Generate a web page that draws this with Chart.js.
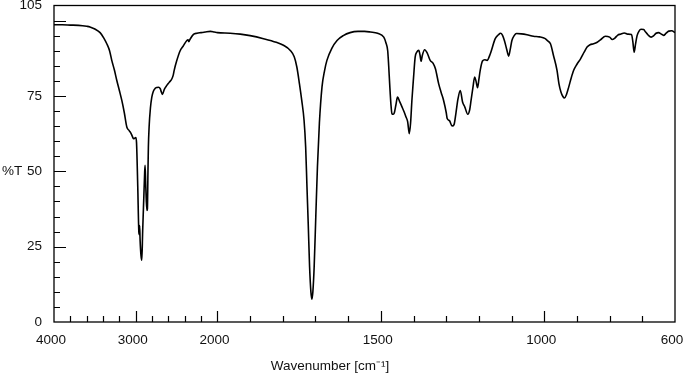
<!DOCTYPE html>
<html>
<head>
<meta charset="utf-8">
<script src="https://cdn.jsdelivr.net/npm/chart.js@4"></script>
<style>
  html, body { margin: 0; padding: 0; background: #fff; }
  #wrap { width: 683px; height: 375px; }
</style>
</head>
<body>
<div id="wrap"><canvas id="canvas" width="683" height="375"></canvas></div>
<script>
// IR spectrum, wavenumber (cm-1) vs %T
const wavenumbers = [
  4000, 3900, 3800, 3700, 3600, 3560, 3500, 3436, 3390, 3354, 3320, 3293, 3260, 3232, 3200, 3170,
  3140, 3109, 3080, 3056, 3040, 3028, 3010, 2999, 2990, 2975, 2962, 2957, 2952, 2946, 2935, 2925,
  2915, 2900, 2890, 2885, 2878, 2870, 2862, 2857, 2850, 2845, 2836, 2820, 2803, 2785, 2762, 2740,
  2720, 2700, 2690, 2673, 2650, 2619, 2590, 2557, 2540, 2529, 2500, 2456, 2420, 2374, 2360, 2350,
  2335, 2293, 2250, 2200, 2150, 2085, 2040, 2000, 1961, 1930, 1900, 1859, 1820, 1798, 1777, 1765,
  1757, 1749, 1742, 1735, 1730, 1726, 1722, 1718, 1714, 1711, 1708, 1704, 1699, 1694, 1688, 1680,
  1672, 1665, 1650, 1634, 1615, 1594, 1570, 1550, 1532, 1510, 1491, 1484, 1479, 1476, 1473, 1469,
  1466, 1462, 1459, 1454, 1449, 1442, 1435, 1428, 1423, 1418, 1413, 1409, 1405, 1400, 1395, 1390,
  1384, 1380, 1377, 1373, 1366, 1358, 1349, 1340, 1333, 1323, 1315, 1308, 1300, 1297, 1290, 1282,
  1276, 1270, 1264, 1257, 1250, 1243, 1234, 1228, 1224, 1218, 1213, 1209, 1204, 1200, 1196, 1189,
  1182, 1175, 1165, 1150, 1140, 1134, 1128, 1122, 1115, 1109, 1104, 1099, 1092, 1085, 1070, 1053,
  1033, 1015, 997, 991, 981, 972, 961, 955, 949, 943, 938, 932, 925, 918, 910, 900,
  889, 878, 869, 860, 849, 838, 828, 813, 800, 792, 784, 775, 767, 755, 745, 733,
  729, 725, 721, 716, 710, 704, 696, 690, 683, 673, 665, 658, 650, 643, 635, 627,
  619, 610, 600
];
const transmittance = [
  98.6, 98.6, 98.5, 98.4, 98.1, 97.9, 97.2, 96.0, 94.2, 92.3, 90.0, 86.8, 83.5, 80.2, 76.8, 73.5,
  69.5, 64.7, 63.5, 62.5, 61.5, 60.8, 61.0, 61.2, 59.5, 45.0, 30.0, 29.0, 32.0, 27.0, 22.0, 20.5,
  30.0, 42.0, 50.0, 52.0, 46.0, 40.0, 37.0, 37.5, 50.0, 58.0, 64.7, 71.0, 74.6, 76.5, 77.5, 77.8,
  77.9, 77.4, 76.6, 75.5, 77.2, 78.5, 79.5, 80.7, 82.0, 83.5, 86.5, 90.0, 91.5, 93.4, 93.6, 93.0,
  93.8, 95.4, 95.8, 96.0, 96.2, 96.4, 96.2, 96.0, 95.8, 95.5, 95.0, 94.0, 92.8, 91.8, 90.1, 88.0,
  84.6, 79.0, 73.5, 67.0, 58.0, 44.8, 32.0, 18.3, 10.0, 7.6, 10.0, 18.3, 35.0, 51.4, 66.0, 78.0,
  83.5, 86.8, 90.8, 93.4, 95.0, 96.0, 96.4, 96.4, 96.2, 95.8, 94.5, 92.5, 90.0, 85.0, 79.0, 72.0,
  69.1, 68.9, 69.3, 72.0, 74.6, 73.0, 71.3, 69.5, 68.0, 66.5, 62.5, 66.0, 73.5, 81.0, 87.9, 89.5,
  90.1, 88.5, 86.5, 88.5, 90.3, 89.2, 86.8, 85.8, 84.0, 79.0, 76.0, 73.5, 69.5, 67.5, 66.8, 65.0,
  65.5, 69.5, 74.0, 76.8, 73.0, 71.3, 68.9, 70.5, 73.5, 78.0, 81.3, 80.0, 77.7, 80.5, 83.5, 86.6,
  87.0, 86.8, 89.0, 94.0, 95.3, 95.8, 95.2, 93.4, 90.5, 88.2, 90.5, 93.4, 95.0, 95.7, 95.6, 95.3,
  94.8, 94.6, 94.0, 93.4, 92.3, 88.5, 83.5, 79.0, 76.3, 74.8, 74.3, 75.5, 78.0, 80.8, 83.5, 85.5,
  87.3, 89.5, 91.2, 92.0, 92.3, 92.8, 93.6, 94.8, 94.5, 93.7, 94.2, 95.2, 95.5, 95.9, 95.5, 95.4,
  93.0, 89.5, 92.0, 95.0, 96.5, 97.1, 97.0, 96.2, 95.3, 94.5, 95.0, 95.8, 96.0, 95.6, 95.1, 95.8,
  96.5, 96.6, 96.0
];

const xLabelTicks = [4000, 3000, 2000, 1500, 1000, 600];
const xMajorMarks = [3000, 2000, 1500, 1000];
const xMinorMarks = [3800, 3600, 3400, 3200, 2800, 2600, 2400, 2200,
  1900, 1800, 1700, 1600, 1400, 1300, 1200, 1100, 900, 800, 700];
const yLabelTicks = [0, 25, 50, 75, 105];
const yMarks = [5, 10, 15, 20, 25, 30, 35, 40, 45, 50, 55, 60, 65, 70, 75, 80, 85, 90, 95, 100];
const xTitle = "Wavenumber [cm\u207B\u00B9]";
const yTitle = "%T";

// axis is compressed above 2000 cm-1 (4x)
function toU(w) { return w >= 2000 ? (4000 - w) / 4 : 500 + (2000 - w); }
function fromU(u) { return u <= 500 ? 4000 - u * 4 : 2000 - (u - 500); }

const font = { family: "'Liberation Sans', Arial, sans-serif", size: 13.5 };
const ink = "#111";

const framePlugin = {
  id: "frame",
  afterDraw(chart) {
    const { ctx, chartArea: a, scales } = chart;
    const x = scales.x, y = scales.y;
    ctx.save();
    ctx.strokeStyle = "#000";
    ctx.lineWidth = 1.3;
    ctx.strokeRect(a.left, a.top, a.right - a.left, a.bottom - a.top);
    ctx.lineWidth = 1.2;
    ctx.beginPath();
    yMarks.forEach((v) => {
      const py = Math.round(y.getPixelForValue(v)) + 0.5;
      const len = v % 25 === 0 ? 12 : 6;
      ctx.moveTo(a.left, py);
      ctx.lineTo(a.left + len, py);
    });
    xMajorMarks.concat(xMinorMarks).forEach((w) => {
      const px = Math.round(x.getPixelForValue(toU(w))) + 0.5;
      const len = xMajorMarks.includes(w) ? 11 : 6;
      ctx.moveTo(px, a.bottom);
      ctx.lineTo(px, a.bottom - len);
    });
    ctx.stroke();
    ctx.fillStyle = ink;
    ctx.font = "13.5px 'Liberation Sans', Arial, sans-serif";
    ctx.textBaseline = "middle";
    ctx.textAlign = "left";
    ctx.fillText(yTitle, 2, y.getPixelForValue(50));
    // axis title sits left of the plot centre in the original
    ctx.textAlign = "center";
    ctx.fillText(xTitle, 330, 366);
    ctx.restore();
  },
};

new Chart(document.getElementById("canvas").getContext("2d"), {
  type: "line",
  data: {
    datasets: [
      {
        data: wavenumbers.map((w, i) => ({ x: toU(w), y: transmittance[i] })),
        borderColor: "#000",
        borderWidth: 1.6,
        pointRadius: 0,
        fill: false,
        cubicInterpolationMode: "monotone",
      },
    ],
  },
  options: {
    responsive: false,
    animation: false,
    devicePixelRatio: 1,
    layout: { padding: { left: 0, right: 8, top: 5.5, bottom: 0 } },
    plugins: { legend: { display: false }, tooltip: { enabled: false } },
    scales: {
      x: {
        type: "linear",
        min: 0,
        max: 1900,
        grid: { display: false, drawTicks: false },
        border: { display: false },
        afterBuildTicks: (s) => { s.ticks = xLabelTicks.map((w) => ({ value: toU(w) })); },
        afterFit: (s) => { s.height = 53; s.paddingLeft = 0; s.paddingRight = 0; },
        ticks: {
          autoSkip: false,
          maxRotation: 0,
          padding: 10,
          labelOffset: -3,
          color: ink,
          font: font,
          callback: (v) => String(Math.round(fromU(v))),
        },
      },
      y: {
        min: 0,
        max: 105,
        grid: { display: false, drawTicks: false },
        border: { display: false },
        afterBuildTicks: (s) => { s.ticks = yLabelTicks.map((v) => ({ value: v })); },
        afterFit: (s) => { s.width = 54; s.paddingTop = 0; s.paddingBottom = 0; },
        ticks: { padding: 12, color: ink, font: font },
      },
    },
  },
  plugins: [framePlugin],
});
</script>
</body>
</html>
